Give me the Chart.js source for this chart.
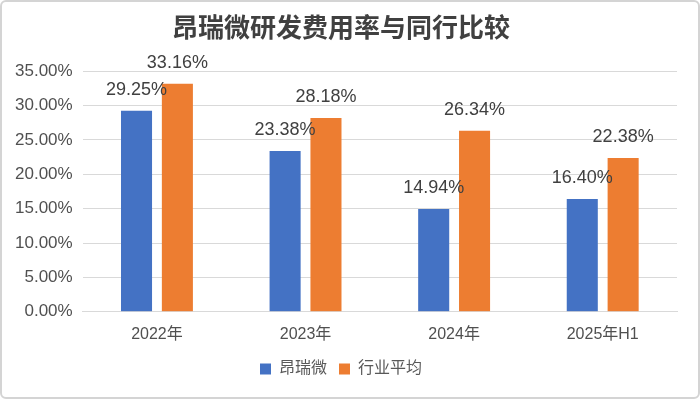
<!DOCTYPE html>
<html>
<head>
<meta charset="utf-8">
<script src="https://cdn.jsdelivr.net/npm/chart.js@4/dist/chart.umd.min.js"></script>
<style>
  html, body { margin: 0; padding: 0; background: #fff; }
  #wrap {
    width: 700px; height: 399px; box-sizing: border-box;
    border: 2px solid #d4d4d4; border-radius: 6px; position: relative;
  }
  #wrap canvas { display: block; }
</style>
</head>
<body>
<div id="wrap"><canvas id="chart" width="696" height="395"></canvas></div>
<script>
const categories = ['2022年', '2023年', '2024年', '2025年H1'];
const seriesNames = ['昂瑞微', '行业平均'];
const angrui = [29.25, 23.38, 14.94, 16.40];
const industry = [33.16, 28.18, 26.34, 22.38];
const yTicks = [0, 5, 10, 15, 20, 25, 30, 35];

const FONT = '"Liberation Sans", "Noto Sans CJK SC", sans-serif';

// draw value labels above each bar
const valueLabels = {
  id: 'valueLabels',
  afterDatasetsDraw(chart) {
    const ctx = chart.ctx;
    ctx.save();
    ctx.font = '18px ' + FONT;
    ctx.fillStyle = '#404040';
    ctx.textAlign = 'center';
    ctx.textBaseline = 'middle';
    chart.data.datasets.forEach((ds, i) => {
      chart.getDatasetMeta(i).data.forEach((bar, j) => {
        ctx.fillText(ds.data[j].toFixed(2) + '%', bar.x, bar.y - 21);
      });
    });
    ctx.restore();
  }
};

new Chart(document.getElementById('chart'), {
  type: 'bar',
  data: {
    labels: categories,
    datasets: [
      {
        label: seriesNames[0],
        data: angrui,
        backgroundColor: '#4472C4',
        barPercentage: 0.76,
        categoryPercentage: 0.55
      },
      {
        label: seriesNames[1],
        data: industry,
        backgroundColor: '#ED7D31',
        barPercentage: 0.76,
        categoryPercentage: 0.55
      }
    ]
  },
  options: {
    responsive: false,
    animation: false,
    layout: { padding: { left: 3, right: 21, top: 0, bottom: 10 } },
    plugins: {
      title: {
        display: true,
        text: '昂瑞微研发费用率与同行比较',
        color: '#404040',
        font: { size: 26, weight: 'bold', family: '"Noto Sans CJK SC", sans-serif' },
        padding: { top: 10, bottom: 28 }
      },
      legend: {
        position: 'bottom',
        labels: {
          color: '#595959',
          font: { size: 16, family: FONT },
          usePointStyle: true,
          pointStyle: 'rect',
          boxWidth: 11,
          boxHeight: 11,
          padding: 12
        }
      },
      tooltip: { enabled: false }
    },
    scales: {
      x: {
        grid: { display: false },
        border: { color: '#d9d9d9', width: 1 },
        ticks: { color: '#505050', font: { size: 16, family: FONT }, padding: 5 }
      },
      y: {
        min: 0,
        max: 35,
        afterBuildTicks(axis) { axis.ticks = yTicks.map(v => ({ value: v })); },
        grid: { color: '#d9d9d9', drawTicks: false },
        border: { display: false },
        ticks: {
          color: '#505050',
          font: { size: 17, family: FONT },
          padding: 10,
          callback: v => v.toFixed(2) + '%'
        }
      }
    }
  },
  plugins: [valueLabels]
});
</script>
</body>
</html>
